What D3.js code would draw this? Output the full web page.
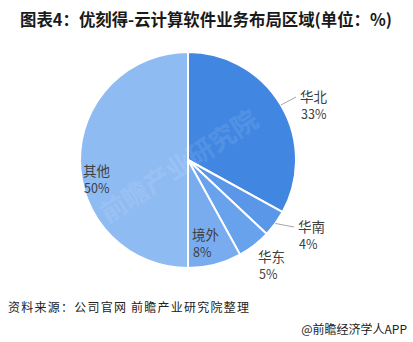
<!DOCTYPE html>
<html>
<head>
<meta charset="utf-8">
<script src="https://cdn.jsdelivr.net/npm/d3@7"></script>
<style>
  body { margin: 0; background: #fff; }
  text { font-family: "Noto Sans CJK SC", "Noto Sans", sans-serif; }
</style>
</head>
<body>
<div class="chart"></div>
<script>
(function() {
  'use strict';

  const regions = ['华北', '华南', '华东', '境外', '其他'],
        shares  = [33, 4, 5, 8, 50],
        colors  = ['#4187e2', '#5b97e8', '#68a1ec', '#78acef', '#8fbbf3'];

  let width = 413, height = 342,
      cx = 188, cy = 160, r = 108,

      svg = d3.select('.chart')
        .append('svg')
        .attr('width', width)
        .attr('height', height),

      pie = d3.pie().sort(null).value(d => d.v),
      arc = d3.arc().innerRadius(0).outerRadius(r),
      data = pie(regions.map((k, i) => ({ k: k, v: shares[i] })));

  // title
  svg.append('text')
    .attr('x', 20).attr('y', 26)
    .attr('font-size', 16.5).attr('font-weight', 'bold').attr('fill', '#1a1a1a')
    .attr('textLength', 372).attr('lengthAdjust', 'spacingAndGlyphs')
    .text('图表4：优刻得-云计算软件业务布局区域(单位：%)');

  let g = svg.append('g').attr('transform', `translate(${cx},${cy})`);

  g.selectAll('path')
    .data(data)
    .enter()
    .append('path')
    .attr('d', arc)
    .attr('fill', (d, i) => colors[i])
    .attr('stroke', '#fff')
    .attr('stroke-width', 2);

  // faint watermark
  svg.append('text')
    .attr('transform', `translate(${cx - 4},${cy + 14}) rotate(-33)`)
    .attr('text-anchor', 'middle')
    .attr('font-size', 26).attr('font-weight', 'bold')
    .attr('fill', '#fff').attr('opacity', 0.09)
    .text('前瞻产业研究院');

  // label anchor points and optional leader
  let labelPos = [
    { x: 300, y: 102, line: true },
    { x: 298, y: 232, line: true },
    { x: 258, y: 262, line: false },
    { x: 192, y: 240, line: false },
    { x: 83,  y: 176, line: false }
  ];

  let outer = d3.arc().innerRadius(r).outerRadius(r);

  data.forEach((d, i) => {
    let p = labelPos[i];
    if (p.line) {
      let e = outer.centroid(d);
      svg.append('path')
        .attr('d', `M${cx + e[0]},${cy + e[1]}L${p.x - 4},${p.y - 5}`)
        .attr('stroke', '#a6a6a6').attr('fill', 'none').attr('stroke-width', 1);
    }
    let t = svg.append('text')
      .attr('x', p.x).attr('y', p.y)
      .attr('font-size', 13.5).attr('fill', '#404040');
    t.append('tspan').attr('x', p.x).text(d.data.k);
    t.append('tspan').attr('x', p.x + 1).attr('dy', 17)
      .attr('font-size', 12.5).text(d.data.v + '%');
  });

  // footer
  svg.append('text')
    .attr('x', 8).attr('y', 312)
    .attr('font-size', 12).attr('fill', '#222')
    .attr('textLength', 241).attr('lengthAdjust', 'spacing')
    .text('资料来源：公司官网 前瞻产业研究院整理');

  svg.append('text')
    .attr('x', 407).attr('y', 334)
    .attr('text-anchor', 'end')
    .attr('font-size', 12).attr('fill', '#222')
    .text('@前瞻经济学人APP');
})();
</script>
</body>
</html>
